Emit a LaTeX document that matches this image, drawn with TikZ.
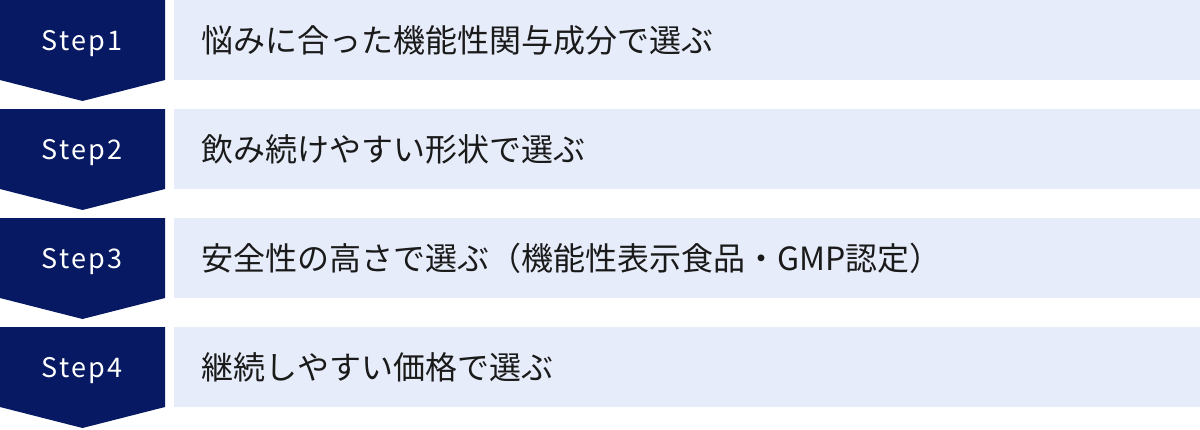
\documentclass[tikz,border=0pt]{standalone}
\usepackage{fontspec}
\setmainfont{Noto Sans CJK JP}
\newfontfamily\steplatin[LetterSpace=8]{Noto Sans CJK JP}
\definecolor{stepnavy}{RGB}{6,25,98}
\definecolor{itembg}{RGB}{230,236,249}
\definecolor{itemfg}{RGB}{26,26,26}

\begin{document}
\begin{tikzpicture}[x=0.5pt,y=-0.5pt,
  stepshape/.style={fill=stepnavy},
  steplabel/.style={anchor=base,text=white,inner sep=0pt,font=\steplatin\fontsize{13.5}{16}\selectfont},
  itembox/.style={fill=itembg},
  itemtext/.style={anchor=west,text=itemfg,inner sep=0pt,font=\fontsize{16}{19}\selectfont}]
  \useasboundingbox (0,0) rectangle (1200,429);
  \foreach \i/\txt in {1/悩みに合った機能性関与成分で選ぶ,
                       2/飲み続けやすい形状で選ぶ,
                       3/安全性の高さで選ぶ（機能性表示食品・GMP認定）,
                       4/継続しやすい価格で選ぶ} {
    \pgfmathsetmacro\rowtop{(\i-1)*109}
    % step marker
    \fill[stepshape] (0,\rowtop) -- ++(165,0) -- ++(0,80) -- ++(-82.5,21)
      -- ++(-82.5,-21) -- cycle;
    \node[steplabel] (step\i) at (82,\rowtop+50) {Step\i};
    % item bar
    \fill[itembox] (174,\rowtop) rectangle ++(1026,80);
    \node[itemtext] (item\i) at (201,\rowtop+40) {\txt};
  }
\end{tikzpicture}
\end{document}
